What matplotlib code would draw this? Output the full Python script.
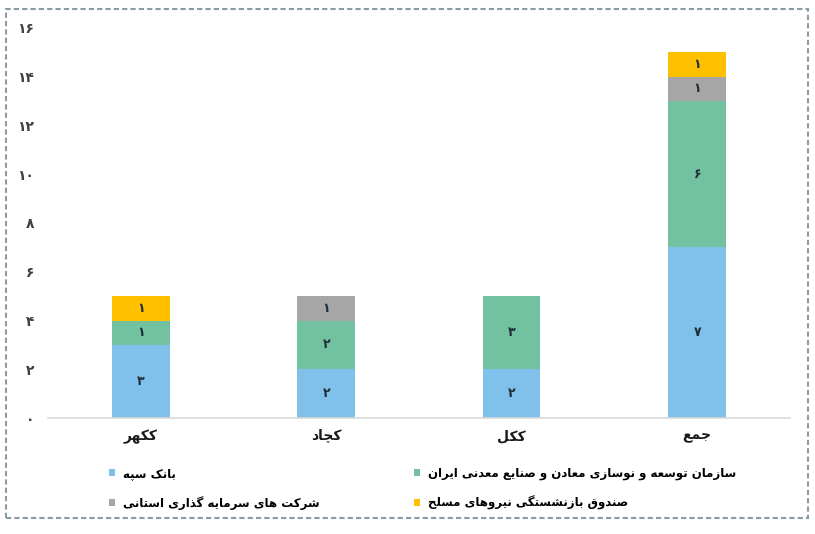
import matplotlib
matplotlib.use("Agg")
import matplotlib.pyplot as plt
from matplotlib.patches import Rectangle, Patch
import numpy as np

# data
categories = ["ککهر", "کچاد", "ککل", "جمع"]
series_names = ["بانک سپه",
                "سازمان توسعه و نوسازی معادن و صنایع معدنی ایران",
                "شرکت های سرمایه گذاری استانی",
                "صندوق بازنشستگی نیروهای مسلح"]
sepah = [3, 2, 2, 7]
sazman = [1, 2, 3, 6]
sherkat = [0, 1, 0, 1]
sandogh = [1, 0, 0, 1]
yticks = [0, 2, 4, 6, 8, 10, 12, 14, 16]

colors = ["#7fc1ea", "#72c1a0", "#a6a6a6", "#ffc000"]

# matplotlib has no arabic shaping, so map letters to presentation forms
# (isolated, final, initial, medial); None means the letter does not join forward
FORMS = {
    "ا": ("\uFE8D", "\uFE8E", None, None),
    "ب": ("\uFE8F", "\uFE90", "\uFE91", "\uFE92"),
    "ت": ("\uFE95", "\uFE96", "\uFE97", "\uFE98"),
    "ج": ("\uFE9D", "\uFE9E", "\uFE9F", "\uFEA0"),
    "ح": ("\uFEA1", "\uFEA2", "\uFEA3", "\uFEA4"),
    "د": ("\uFEA9", "\uFEAA", None, None),
    "ذ": ("\uFEAB", "\uFEAC", None, None),
    "ر": ("\uFEAD", "\uFEAE", None, None),
    "ز": ("\uFEAF", "\uFEB0", None, None),
    "س": ("\uFEB1", "\uFEB2", "\uFEB3", "\uFEB4"),
    "ش": ("\uFEB5", "\uFEB6", "\uFEB7", "\uFEB8"),
    "ص": ("\uFEB9", "\uFEBA", "\uFEBB", "\uFEBC"),
    "ع": ("\uFEC9", "\uFECA", "\uFECB", "\uFECC"),
    "ق": ("\uFED5", "\uFED6", "\uFED7", "\uFED8"),
    "ل": ("\uFEDD", "\uFEDE", "\uFEDF", "\uFEE0"),
    "م": ("\uFEE1", "\uFEE2", "\uFEE3", "\uFEE4"),
    "ن": ("\uFEE5", "\uFEE6", "\uFEE7", "\uFEE8"),
    "ه": ("\uFEE9", "\uFEEA", "\uFEEB", "\uFEEC"),
    "و": ("\uFEED", "\uFEEE", None, None),
    "پ": ("\uFB56", "\uFB57", "\uFB58", "\uFB59"),
    "چ": ("\uFB7A", "\uFB7B", "\uFB7C", "\uFB7D"),
    "ک": ("\uFB8E", "\uFB8F", "\uFB90", "\uFB91"),
    "گ": ("\uFB92", "\uFB93", "\uFB94", "\uFB95"),
    "ی": ("\uFBFC", "\uFBFD", "\uFBFE", "\uFBFF"),
}


def fa(text):
    out = []
    for i, ch in enumerate(text):
        if ch not in FORMS:
            out.append(ch)
            continue
        prev = text[i - 1] if i > 0 else None
        nxt = text[i + 1] if i + 1 < len(text) else None
        join_prev = prev in FORMS and FORMS[prev][2] is not None
        join_next = FORMS[ch][2] is not None and nxt in FORMS
        iso, fin, ini, med = FORMS[ch]
        if join_prev and join_next:
            out.append(med)
        elif join_prev:
            out.append(fin)
        elif join_next:
            out.append(ini)
        else:
            out.append(iso)
    return "".join(reversed(out))


def fa_num(n):
    return str(n).translate(str.maketrans("0123456789", "۰۱۲۳۴۵۶۷۸۹"))


plt.rcParams['font.family'] = ['DejaVu Sans']
plt.rcParams['font.weight'] = 'bold'

fig = plt.figure(figsize=(8.15, 5.34), dpi=100)
ax = fig.add_axes([0.0589, 0.2172, 0.9104, 0.7304])

x = np.arange(len(categories))
width = 0.31
bottom = np.zeros(len(categories))
handles = []
for vals, c, name in zip([sepah, sazman, sherkat, sandogh], colors, series_names):
    vals = np.array(vals, dtype=float)
    bars = ax.bar(x, vals, width, bottom=bottom, color=c)
    for b, v, y0 in zip(bars, vals, bottom):
        if v > 0:
            ax.text(b.get_x() + b.get_width() / 2, y0 + v / 2, fa_num(int(v)),
                    ha='center', va='center', fontsize=9, fontweight='bold',
                    color='#1f2d3a')
    handles.append(Patch(facecolor=c, label=fa(name)))
    bottom += vals

ax.set_xlim(-0.5, 3.5)
ax.set_ylim(0, 16)
ax.set_xticks(x)
ax.set_xticklabels([fa(c) for c in categories], fontsize=10, fontweight='bold',
                   color='#1a1a1a')
ax.set_yticks(yticks)
ax.set_yticklabels([fa_num(t) for t in yticks], fontsize=10, fontweight='bold',
                   color='#404040')
ax.tick_params(axis='both', length=0)
ax.tick_params(axis='y', pad=10)
ax.tick_params(axis='x', pad=8)
for s in ['top', 'left', 'right']:
    ax.spines[s].set_visible(False)
ax.spines['bottom'].set_color('#d9d9d9')
ax.spines['bottom'].set_linewidth(1.2)

# legend, two columns placed separately
leg_kw = dict(frameon=False, handlelength=0.55, handleheight=0.55,
              handletextpad=0.7, labelspacing=1.35, borderaxespad=0,
              prop={'weight': 'bold', 'size': 8.5})
fig.legend(handles=[handles[0], handles[2]], loc='upper left',
           bbox_to_anchor=(104 / 815, 1 - 462 / 534), **leg_kw)
fig.legend(handles=[handles[1], handles[3]], loc='upper left',
           bbox_to_anchor=(409 / 815, 1 - 462 / 534), **leg_kw)

# dashed frame round the chart
fig.patches.append(Rectangle((6 / 815, 1 - 518 / 534), 802 / 815, 509 / 534,
                             transform=fig.transFigure, fill=False,
                             edgecolor='#8a9ca3', linewidth=1.5,
                             linestyle=(0, (2.5, 1.5))))

fig.savefig("out.png", dpi=100)
plt.close(fig)
